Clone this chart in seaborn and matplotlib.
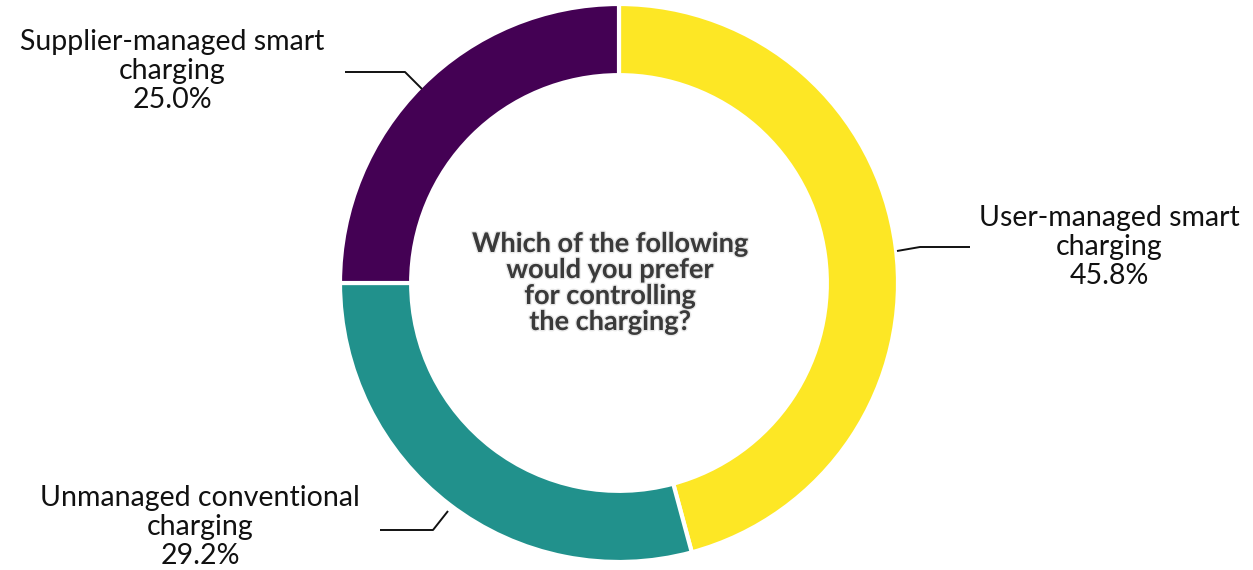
import matplotlib
matplotlib.use("Agg")
import matplotlib.pyplot as plt
import matplotlib.patheffects as pe
import seaborn as sns

# Survey answers (share of respondents, %)
categories = ["User-managed smart\ncharging",
              "Unmanaged conventional\ncharging",
              "Supplier-managed smart\ncharging"]
shares = [45.8, 29.2, 25.0]
colors = ["#FDE725", "#21918C", "#440154"]
question = "Which of the following\nwould you prefer\nfor controlling\nthe charging?"

sns.set_theme(style="white")
plt.rcParams["font.family"] = ["Lato", "DejaVu Sans"]

W, H = 1253, 570
fig = plt.figure(figsize=(W / 100, H / 100), dpi=100)
ax = fig.add_axes([0, 0, 1, 1])
ax.set_xlim(0, W)
ax.set_ylim(0, H)
ax.axis("off")

cx, cy, R = 619, 287, 279
ax.pie(shares, colors=colors, startangle=90, counterclock=False,
       center=(cx, cy), radius=R,
       wedgeprops=dict(width=R * 0.255, edgecolor="white", linewidth=3))
ax.set_xlim(0, W)
ax.set_ylim(0, H)
ax.set_aspect("equal")

labels = [f"{c}\n{v:.1f}%" for c, v in zip(categories, shares)]
label_pos = [(1109, H - 247), (200, H - 527), (172, H - 71)]
leaders = [
    [(897, H - 251), (920, H - 247), (970, H - 247)],
    [(380, H - 530), (433, H - 530), (448, H - 511)],
    [(345, H - 72), (405, H - 72), (422, H - 89)],
]
for lab, (x, y), pts in zip(labels, label_pos, leaders):
    ax.text(x, y, lab, ha="center", va="center", fontsize=20.5,
            color="#111111", linespacing=1.13)
    xs, ys = zip(*pts)
    ax.plot(xs, ys, color="#111111", lw=1.4, solid_capstyle="butt")

ax.text(610, H - 283, question, ha="center", va="center", fontsize=19.5,
        fontweight="bold", color="#3a3a3a", linespacing=1.1,
        path_effects=[pe.withStroke(linewidth=2, foreground="#d0d0d0", alpha=0.45)])

fig.savefig("out.png", dpi=100, facecolor="white")
